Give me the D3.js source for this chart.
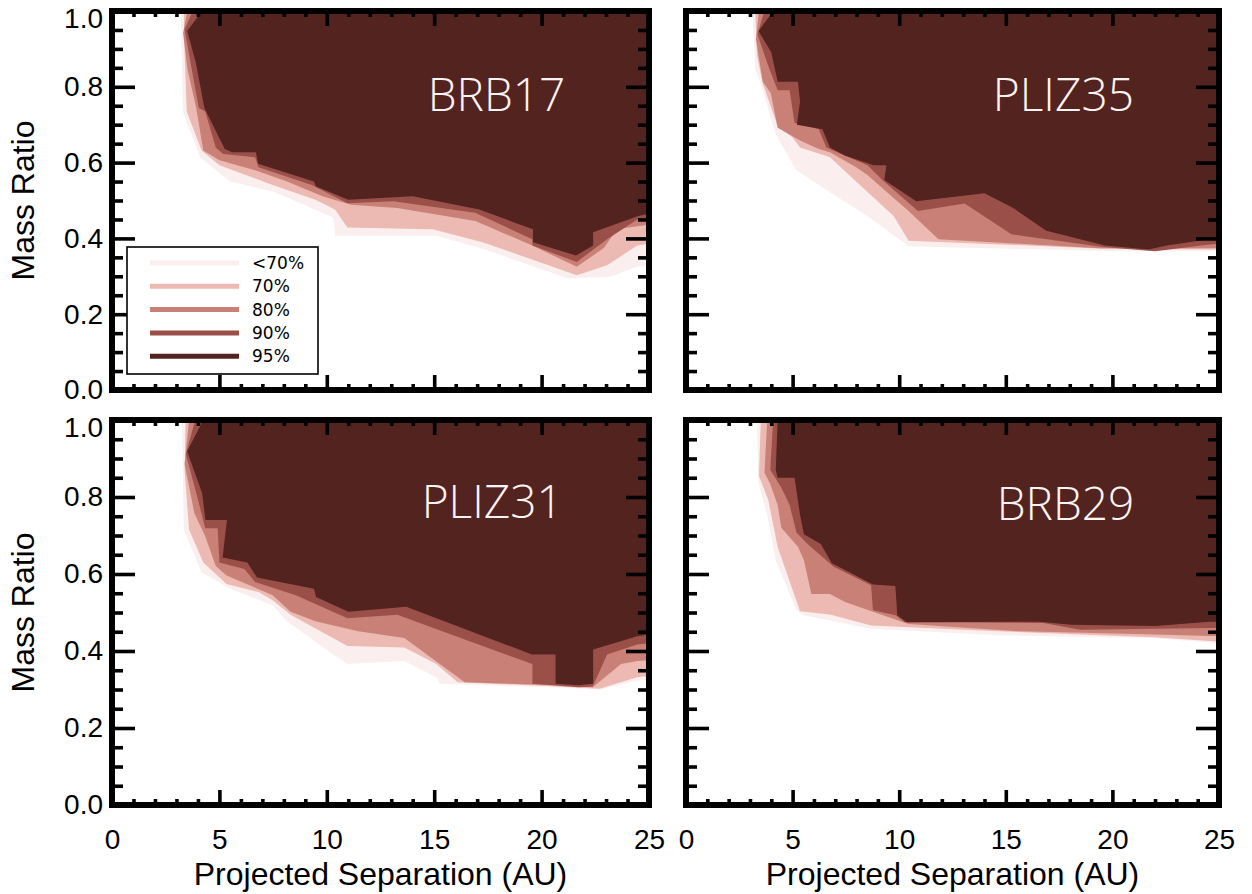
<!DOCTYPE html>
<html><head><meta charset="utf-8">
<script src="https://cdn.jsdelivr.net/npm/d3@7/dist/d3.min.js"></script>
<style>
html,body{margin:0;padding:0;background:#fff;}
svg{display:block;}
</style></head>
<body>
<svg id="chart" width="1252" height="894"></svg>
<script>
// ---- data ----
const levelLabels = ["<70%", "70%", "80%", "90%", "95%"];
const levelColors = ["#fbeeee", "#ecbab2", "#c98177", "#9a5048", "#52231f"];
const xTickValues = [0, 5, 10, 15, 20, 25];
const yTickValues = [0.0, 0.2, 0.4, 0.6, 0.8, 1.0];
const panelNames = ["BRB17", "PLIZ35", "PLIZ31", "BRB29"];
const labelPos = [[17.9, 0.735], [17.7, 0.737], [17.7, 0.745], [17.8, 0.739]];

// contour boundaries (projected separation AU, mass ratio), one per completeness level
const brb17Lt70 = [[3.2,1.0],[3.3,0.735],[4.1,0.614],[5.5,0.55],[7.5,0.524],[10.3,0.455],[10.4,0.407],[15.1,0.407],[17.25,0.373],[21.2,0.295],[23.2,0.299],[24.45,0.325],[25,0.33]];
const brb17C70 = [[3.34,1.0],[3.38,0.891],[3.48,0.735],[4.17,0.632],[5.0,0.593],[7.48,0.541],[9.47,0.502],[10.38,0.476],[10.96,0.429],[14.93,0.424],[17.25,0.39],[21.64,0.303],[23.05,0.329],[24.45,0.381],[25,0.386]];
const brb17C80 = [[3.51,1.0],[3.31,0.942],[3.51,0.847],[3.92,0.744],[4.25,0.632],[5.0,0.606],[6.66,0.58],[8.15,0.55],[9.8,0.511],[11.13,0.489],[13.28,0.48],[16.92,0.446],[19.57,0.381],[21.64,0.325],[22.9,0.375],[23.5,0.424],[24.45,0.432],[25,0.436]];
const brb17C90 = [[3.76,1.0],[3.38,0.951],[3.68,0.856],[4.04,0.744],[4.34,0.735],[4.83,0.64],[5.17,0.623],[6.66,0.614],[6.82,0.588],[9.3,0.541],[10.96,0.493],[13.1,0.498],[16.9,0.468],[19.57,0.398],[19.57,0.381],[21.64,0.338],[23.05,0.398],[24.45,0.45],[25,0.455]];
const brb17C95 = [[4.2,1.0],[3.5,0.947],[3.9,0.865],[4.3,0.744],[5.25,0.636],[5.6,0.627],[6.7,0.627],[6.8,0.597],[9.4,0.55],[9.5,0.537],[11.0,0.502],[14.0,0.511],[17.1,0.476],[19.6,0.424],[19.6,0.39],[21.6,0.355],[22.4,0.381],[22.4,0.416],[24.5,0.459],[25,0.465]];

const pliz35Lt70 = [[3.11,1.0],[3.25,0.847],[3.6,0.791],[4.21,0.675],[5.18,0.58],[6.93,0.515],[8.51,0.459],[10.44,0.379],[19.56,0.367],[24.56,0.366],[25,0.366]];
const pliz35C70 = [[3.25,1.0],[3.33,0.882],[3.6,0.809],[4.3,0.696],[5.0,0.666],[5.35,0.64],[6.75,0.614],[7.98,0.55],[9.74,0.459],[10.44,0.394],[19.56,0.373],[24.56,0.371],[25,0.371]];
const pliz35C80 = [[3.42,1.0],[3.28,0.925],[3.6,0.813],[3.98,0.783],[4.3,0.692],[5.35,0.658],[6.23,0.636],[6.75,0.627],[7.98,0.588],[8.51,0.567],[9.39,0.524],[10.44,0.472],[11.84,0.398],[19.39,0.374],[24.56,0.374],[25,0.375]];
const pliz35C90 = [[3.68,1.0],[3.35,0.938],[3.91,0.847],[4.3,0.791],[4.86,0.791],[5.09,0.705],[6.23,0.688],[6.58,0.64],[7.28,0.623],[8.51,0.593],[9.21,0.554],[10.88,0.472],[13.07,0.492],[15.26,0.411],[19.56,0.377],[22.0,0.366],[24.56,0.384],[25,0.386]];
const pliz35C95 = [[4.1,1.0],[3.4,0.947],[4.0,0.891],[4.3,0.813],[5.25,0.813],[5.35,0.761],[5.2,0.70],[6.4,0.688],[6.75,0.64],[7.45,0.619],[8.8,0.593],[9.4,0.593],[9.3,0.554],[10.8,0.498],[14.0,0.519],[15.35,0.48],[16.9,0.42],[19.65,0.381],[21.7,0.371],[22.55,0.381],[24.55,0.398],[25,0.4]];

const pliz31Lt70 = [[3.26,1.0],[3.34,0.715],[4.17,0.604],[5.5,0.562],[7.48,0.519],[8.15,0.477],[10.3,0.391],[10.96,0.366],[13.61,0.374],[15.1,0.332],[15.26,0.315],[20.73,0.305],[22.7,0.3],[24.45,0.323],[25,0.326]];
const pliz31C70 = [[3.43,1.0],[3.38,0.868],[3.59,0.715],[4.25,0.63],[5.33,0.574],[6.82,0.553],[7.48,0.532],[8.31,0.494],[10.96,0.413],[13.61,0.409],[15.1,0.366],[16.09,0.319],[20.73,0.308],[22.7,0.302],[24.45,0.332],[25,0.335]];
const pliz31C80 = [[3.59,1.0],[3.38,0.885],[3.84,0.757],[4.34,0.698],[4.83,0.621],[5.33,0.596],[7.48,0.545],[8.31,0.502],[9.47,0.477],[11.46,0.451],[13.61,0.434],[16.42,0.319],[20.73,0.311],[22.38,0.306],[23.7,0.366],[24.45,0.374],[25,0.376]];
const pliz31C90 = [[3.87,1.0],[3.44,0.911],[3.97,0.8],[4.34,0.719],[4.92,0.719],[5.0,0.63],[6.16,0.613],[6.66,0.579],[8.56,0.545],[10.96,0.485],[13.28,0.494],[19.57,0.366],[19.57,0.315],[21.72,0.306],[22.38,0.308],[23.05,0.391],[24.45,0.417],[25,0.42]];
const pliz31C95 = [[4.25,1.0],[3.5,0.919],[4.2,0.809],[4.35,0.74],[5.35,0.74],[5.15,0.643],[6.3,0.63],[6.75,0.591],[9.4,0.562],[9.5,0.54],[11.0,0.502],[13.7,0.515],[19.55,0.391],[20.65,0.391],[20.65,0.315],[21.7,0.311],[22.4,0.315],[22.4,0.404],[24.45,0.438],[25,0.443]];

const brb29Lt70 = [[3.33,1.0],[3.39,0.838],[3.81,0.754],[4.21,0.636],[5.18,0.506],[5.53,0.493],[8.68,0.458],[14.65,0.441],[22.0,0.433],[24.56,0.422],[25,0.42]];
const brb29C70 = [[3.51,1.0],[3.42,0.855],[3.86,0.792],[4.3,0.67],[5.35,0.503],[6.75,0.495],[8.68,0.466],[14.65,0.451],[22.0,0.436],[24.56,0.426],[25,0.425]];
const brb29C80 = [[3.81,1.0],[3.68,0.863],[3.95,0.834],[4.3,0.779],[4.47,0.72],[5.26,0.67],[5.53,0.636],[5.88,0.548],[6.75,0.548],[7.46,0.527],[8.77,0.502],[10.44,0.47],[15.7,0.451],[22.0,0.443],[24.56,0.439],[25,0.439]];
const brb29C90 = [[4.09,1.0],[3.95,0.871],[4.47,0.825],[4.86,0.779],[5.18,0.708],[5.7,0.678],[6.93,0.619],[8.68,0.571],[8.77,0.506],[9.82,0.493],[10.26,0.475],[16.75,0.473],[18.5,0.455],[24.56,0.46],[25,0.46]];
const brb29C95 = [[4.3,1.0],[4.21,0.871],[4.3,0.85],[5.09,0.85],[5.35,0.754],[5.53,0.703],[6.32,0.678],[6.84,0.628],[8.77,0.573],[9.82,0.569],[9.91,0.493],[10.35,0.475],[16.58,0.476],[18.07,0.468],[22.0,0.465],[24.56,0.476],[25,0.476]];

const brb17Contours = [brb17Lt70, brb17C70, brb17C80, brb17C90, brb17C95];
const pliz35Contours = [pliz35Lt70, pliz35C70, pliz35C80, pliz35C90, pliz35C95];
const pliz31Contours = [pliz31Lt70, pliz31C70, pliz31C80, pliz31C90, pliz31C95];
const brb29Contours = [brb29Lt70, brb29C70, brb29C80, brb29C90, brb29C95];

// ---- layout ----
const svg = d3.select("#chart");
const FONT = "'Liberation Sans', Arial, Helvetica, sans-serif";
const panels = [
  {name: panelNames[0], contours: brb17Contours, pos: labelPos[0], x0: 112, x1: 649, y0: 11, y1: 390, left: true, bottom: false, legend: true},
  {name: panelNames[1], contours: pliz35Contours, pos: labelPos[1], x0: 686, x1: 1219, y0: 11, y1: 390, left: false, bottom: false, legend: false},
  {name: panelNames[2], contours: pliz31Contours, pos: labelPos[2], x0: 112, x1: 649, y0: 420, y1: 805, left: true, bottom: true, legend: false},
  {name: panelNames[3], contours: brb29Contours, pos: labelPos[3], x0: 686, x1: 1219, y0: 420, y1: 805, left: false, bottom: true, legend: false}
];

const minorX = d3.range(0, 26, 1).filter(v => v % 5 !== 0);
const minorY = d3.range(0, 21, 1).map(v => v / 20).filter((v, i) => i % 4 !== 0);

panels.forEach((p, pi) => {
  const x = d3.scaleLinear().domain([0, 25]).range([p.x0, p.x1]);
  const y = d3.scaleLinear().domain([0, 1]).range([p.y1, p.y0]);
  const g = svg.append("g");
  const clipId = "clip" + pi;
  g.append("clipPath").attr("id", clipId).append("rect")
    .attr("x", p.x0).attr("y", p.y0).attr("width", p.x1 - p.x0).attr("height", p.y1 - p.y0);

  const line = d3.line().x(d => x(d[0])).y(d => y(d[1]));
  const fills = g.append("g").attr("clip-path", `url(#${clipId})`);
  p.contours.forEach((c, li) => {
    const pts = c.concat([[25, 1.0]]);
    fills.append("path").attr("d", line(pts) + "Z").attr("fill", levelColors[li]).attr("stroke", "none");
  });

  fills.append("text")
    .attr("x", x(p.pos[0])).attr("y", y(p.pos[1]))
    .attr("text-anchor", "middle")
    .attr("font-family", "'Open Sans', 'Lato', sans-serif")
    .attr("font-weight", 300)
    .attr("font-size", 46)
    .attr("fill", "#fdf3f3")
    .text(p.name);

  // axes with inward ticks
  const styleAxis = sel => {
    sel.select(".domain").remove();
    sel.selectAll(".tick line").attr("stroke", "#000").attr("stroke-width", 3.6);
    sel.selectAll("text").attr("font-family", FONT).attr("font-size", 28).attr("fill", "#000");
  };
  const bMajor = d3.axisBottom(x).tickValues(xTickValues).tickSize(-15).tickSizeOuter(0).tickPadding(24)
    .tickFormat(p.bottom ? d3.format("d") : () => "");
  g.append("g").attr("transform", `translate(0,${p.y1})`).call(bMajor).call(styleAxis);
  g.append("g").attr("transform", `translate(0,${p.y1})`).call(d3.axisBottom(x).tickValues(minorX).tickSize(-6).tickFormat(() => "")).call(styleAxis);
  g.append("g").attr("transform", `translate(0,${p.y0})`).call(d3.axisTop(x).tickValues(xTickValues).tickSize(-15).tickFormat(() => "")).call(styleAxis);
  g.append("g").attr("transform", `translate(0,${p.y0})`).call(d3.axisTop(x).tickValues(minorX).tickSize(-6).tickFormat(() => "")).call(styleAxis);

  const lMajor = d3.axisLeft(y).tickValues(yTickValues).tickSize(-23).tickPadding(9)
    .tickFormat(p.left ? d3.format(".1f") : () => "");
  const lAx = g.append("g").attr("transform", `translate(${p.x0},0)`).call(lMajor).call(styleAxis);
  // keep the top label inside the page, as in the reference
  lAx.selectAll(".tick text").filter(d => d === 1.0).attr("dy", "0.6em");
  g.append("g").attr("transform", `translate(${p.x0},0)`).call(d3.axisLeft(y).tickValues(minorY).tickSize(-11).tickFormat(() => "")).call(styleAxis);
  g.append("g").attr("transform", `translate(${p.x1},0)`).call(d3.axisRight(y).tickValues(yTickValues).tickSize(-23).tickFormat(() => "")).call(styleAxis);
  g.append("g").attr("transform", `translate(${p.x1},0)`).call(d3.axisRight(y).tickValues(minorY).tickSize(-11).tickFormat(() => "")).call(styleAxis);

  // frame
  g.append("rect").attr("x", p.x0).attr("y", p.y0).attr("width", p.x1 - p.x0).attr("height", p.y1 - p.y0)
    .attr("fill", "none").attr("stroke", "#000").attr("stroke-width", 6);

  if (p.bottom) {
    g.append("text").attr("x", (p.x0 + p.x1) / 2).attr("y", 885).attr("text-anchor", "middle")
      .attr("font-family", FONT).attr("font-size", 32).text("Projected Separation (AU)");
  }
  if (p.left) {
    g.append("text").attr("transform", `translate(34,${(p.y0 + p.y1) / 2}) rotate(-90)`).attr("text-anchor", "middle")
      .attr("font-family", FONT).attr("font-size", 32).text("Mass Ratio");
  }

  if (p.legend) {
    const lg = g.append("g");
    lg.append("rect").attr("x", 127).attr("y", 247).attr("width", 191).attr("height", 127)
      .attr("fill", "#fff").attr("stroke", "#000").attr("stroke-width", 1.6);
    levelLabels.forEach((lab, i) => {
      const yy = 263 + i * 23.3;
      lg.append("line").attr("x1", 150).attr("x2", 239).attr("y1", yy).attr("y2", yy)
        .attr("stroke", levelColors[i]).attr("stroke-width", 5);
      lg.append("text").attr("x", 252).attr("y", yy).attr("dy", "0.36em")
        .attr("font-family", "'DejaVu Sans', sans-serif").attr("font-size", 17).text(lab);
    });
  }
});
</script>
</body></html>
